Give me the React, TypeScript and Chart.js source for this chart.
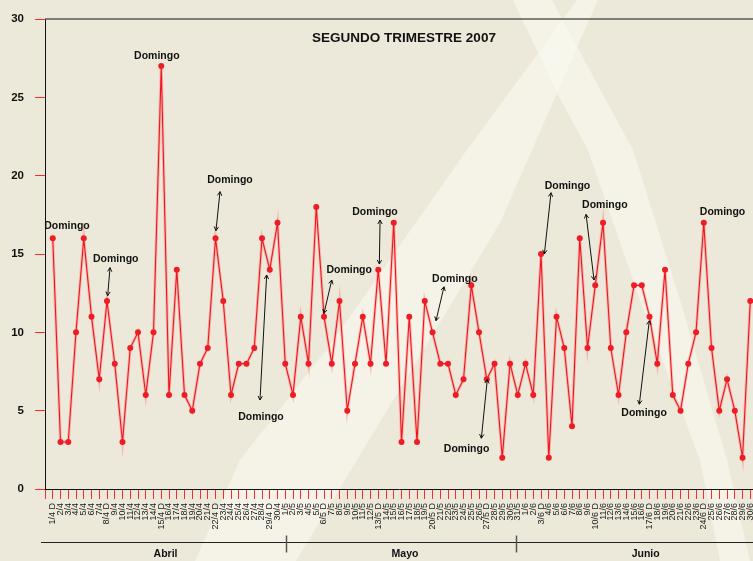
import React, { useEffect, useRef } from "react";
import { Chart, registerables } from "chart.js";

Chart.register(...registerables);

const W = 753;
const H = 561;
const FONT = "'Liberation Sans', Arial, Helvetica, sans-serif";

// ---- data ----
const aprilLabels = ["1/4 D","2/4","3/4","4/4","5/4","6/4","7/4","8/4 D","9/4","10/4","11/4","12/4","13/4","14/4","15/4 D","16/4","17/4","18/4","19/4","20/4","21/4","22/4 D","23/4","24/4","25/4","26/4","27/4","28/4","29/4 D","30/4"];
const mayLabels = ["1/5","2/5","3/5","4/5","5/5","6/5 D","7/5","8/5","9/5","10/5","11/5","12/5","13/5 D","14/5","15/5","16/5","17/5","18/5","19/5","20/5 D","21/5","22/5","23/5","24/5","25/5","26/5","27/5 D","28/5","29/5","30/5","31/5"];
const juneLabels = ["1/6","2/6","3/6 D","4/6","5/6","6/6","7/6","8/6","9/6","10/6 D","11/6","12/6","13/6","14/6","15/6","16/6","17/6 D","18/6","19/6","20/6","21/6","22/6","23/6","24/6 D","25/6","26/6","27/6","28/6","29/6","30/6"];

const aprilValues = [16,3,3,10,16,11,7,12,8,3,9,10,6,10,27,6,14,6,5,8,9,16,12,6,8,8,9,16,14,17];
const mayValues = [8,6,11,8,18,11,8,12,5,8,11,8,14,8,17,3,11,3,12,10,8,8,6,7,13,10,7,8,2,8,6];
const juneValues = [8,6,15,2,11,9,4,16,9,13,17,9,6,10,13,13,11,8,14,6,5,8,10,17,9,5,7,5,2,12];

const months = ["Abril", "Mayo", "Junio"];
const title = "SEGUNDO TRIMESTRE 2007";
const noteText = "Domingo";

// annotation placement (data units: x = day number, y = value)
const notes = [
  { x: 2.84, y: 16.79 },
  { x: 9.13, y: 14.68, from: [8.39, 14.13], to: [8.09, 12.34] },
  { x: 14.43, y: 27.66 },
  { x: 23.87, y: 19.72, from: [22.58, 18.98], to: [22.06, 16.49] },
  { x: 27.87, y: 4.62, from: [27.74, 5.68], to: [28.6, 13.66] },
  { x: 39.25, y: 13.98, from: [37.0, 13.34], to: [36.0, 11.21] },
  { x: 42.58, y: 17.7, from: [43.23, 17.17], to: [43.14, 14.36] },
  { x: 52.88, y: 13.4, from: [51.48, 12.91], to: [50.45, 10.74] },
  { x: 54.39, y: 2.53, from: [56.3, 3.24], to: [57.07, 7.0] },
  { x: 67.42, y: 19.36, from: [65.29, 18.91], to: [64.43, 15.0] },
  { x: 72.23, y: 18.13, from: [69.81, 17.53], to: [70.84, 13.34] },
  { x: 77.3, y: 4.83, from: [76.68, 5.41], to: [77.97, 10.74] },
  { x: 87.42, y: 17.66 },
];

const monthCenters = [15.55, 46.45, 77.5];
const monthDividers = [31.1, 60.8];

function arrowHead(ctx: CanvasRenderingContext2D, x1: number, y1: number, x2: number, y2: number) {
  const a = Math.atan2(y2 - y1, x2 - x1);
  const len = 4.5;
  const spread = 0.5;
  ctx.beginPath();
  ctx.moveTo(x2 - len * Math.cos(a - spread), y2 - len * Math.sin(a - spread));
  ctx.lineTo(x2, y2);
  ctx.lineTo(x2 - len * Math.cos(a + spread), y2 - len * Math.sin(a + spread));
  ctx.stroke();
}

export default function App() {
  const ref = useRef<HTMLCanvasElement>(null);

  useEffect(() => {
    const canvas = ref.current!;
    const labels = [...aprilLabels, ...mayLabels, ...juneLabels];
    const values = [...aprilValues, ...mayValues, ...juneValues];
    const points = values.map((v, i) => ({ x: i + 1, y: v }));

    const bgPlugin = {
      id: "bg",
      beforeDraw(chart: any) {
        const ctx = chart.ctx as CanvasRenderingContext2D;
        ctx.save();
        ctx.fillStyle = "#ECE9DB";
        ctx.fillRect(0, 0, W, H);
        ctx.fillStyle = "rgba(250,249,241,0.62)";
        const bandA = [
          [577, 0], [467, 150], [330, 345], [240, 460], [195, 561],
          [296, 561], [357, 460], [500, 223], [557, 93], [598, 0],
        ];
        const bandB = [
          [513, 0], [557, 93], [588, 150], [640, 300], [700, 460], [720, 561],
          [750, 561], [727, 460], [680, 300], [633, 150], [563, 21], [552, 0],
        ];
        for (const band of [bandA, bandB]) {
          ctx.beginPath();
          band.forEach(([x, y], i) => (i ? ctx.lineTo(x, y) : ctx.moveTo(x, y)));
          ctx.closePath();
          ctx.fill();
        }
        ctx.restore();
      },
      beforeDatasetsDraw(chart: any) {
        const ctx = chart.ctx as CanvasRenderingContext2D;
        const meta = chart.getDatasetMeta(0);
        ctx.save();
        ctx.strokeStyle = "rgba(255,70,70,0.28)";
        ctx.lineWidth = 3;
        ctx.lineJoin = "miter";
        ctx.miterLimit = 12;
        ctx.beginPath();
        meta.data.forEach((p: any, i: number) => (i ? ctx.lineTo(p.x, p.y) : ctx.moveTo(p.x, p.y)));
        ctx.stroke();
        ctx.restore();
      },
    };

    const overlay = {
      id: "overlay",
      afterDraw(chart: any) {
        const ctx = chart.ctx as CanvasRenderingContext2D;
        const xs = chart.scales.x;
        const ys = chart.scales.y;
        const area = chart.chartArea;
        ctx.save();
        // top frame line
        ctx.strokeStyle = "#5a5a55";
        ctx.lineWidth = 1.5;
        ctx.beginPath();
        ctx.moveTo(area.left, area.top);
        ctx.lineTo(W, area.top);
        ctx.stroke();

        // title
        ctx.fillStyle = "#111";
        ctx.font = `bold 13.5px ${FONT}`;
        ctx.textAlign = "center";
        ctx.textBaseline = "middle";
        ctx.fillText(title, 404, 38);

        // annotations
        ctx.font = `bold 10.5px ${FONT}`;
        ctx.strokeStyle = "#111";
        ctx.lineWidth = 1;
        for (const n of notes) {
          ctx.fillText(noteText, xs.getPixelForValue(n.x), ys.getPixelForValue(n.y));
          if (n.from && n.to) {
            const x1 = xs.getPixelForValue(n.from[0]);
            const y1 = ys.getPixelForValue(n.from[1]);
            const x2 = xs.getPixelForValue(n.to[0]);
            const y2 = ys.getPixelForValue(n.to[1]);
            ctx.beginPath();
            ctx.moveTo(x1, y1);
            ctx.lineTo(x2, y2);
            ctx.stroke();
            arrowHead(ctx, x1, y1, x2, y2);
            arrowHead(ctx, x2, y2, x1, y1);
          }
        }

        // month axis
        const my = 542.5;
        ctx.strokeStyle = "#222";
        ctx.lineWidth = 1;
        ctx.beginPath();
        ctx.moveTo(41, my);
        ctx.lineTo(W, my);
        ctx.stroke();
        ctx.strokeStyle = "#555";
        ctx.lineWidth = 1.5;
        for (const d of monthDividers) {
          const x = Math.round(xs.getPixelForValue(d)) + 0.5;
          ctx.beginPath();
          ctx.moveTo(x, my - 7);
          ctx.lineTo(x, my + 10);
          ctx.stroke();
        }
        ctx.fillStyle = "#111";
        ctx.font = `bold 10.5px ${FONT}`;
        months.forEach((m, i) => {
          ctx.fillText(m, xs.getPixelForValue(monthCenters[i]), 554);
        });
        ctx.restore();
      },
    };

    const chart = new Chart(canvas, {
      type: "line",
      data: {
        datasets: [
          {
            data: points,
            borderColor: "#f0141e",
            borderWidth: 1.1,
            pointRadius: 3,
            pointBackgroundColor: "#ee1c25",
            pointBorderWidth: 0,
            tension: 0,
            clip: false,
          },
        ],
      },
      options: {
        animation: false,
        responsive: false,
        plugins: { legend: { display: false }, tooltip: { enabled: false }, title: { display: false } },
        layout: { autoPadding: false, padding: { top: 19, left: 0, right: 0, bottom: 0 } },
        scales: {
          x: {
            type: "linear",
            min: 0,
            max: 91.35,
            afterBuildTicks(s: any) {
              s.ticks = [{ value: 0 }, ...labels.map((_, i) => ({ value: i + 1 }))];
            },
            afterFit(s: any) {
              s.height = 72;
              s.paddingLeft = 0;
              s.paddingRight = 0;
            },
            ticks: {
              autoSkip: false,
              minRotation: 90,
              maxRotation: 90,
              padding: 4,
              color: "#1a1a1a",
              font: { family: FONT, size: 9 },
              callback: (v: any) => (v >= 1 ? labels[v - 1] ?? "" : ""),
            },
            grid: { drawOnChartArea: false, tickLength: 10, color: "#ff2a2a", lineWidth: 1 },
            border: { color: "#111", width: 1 },
          },
          y: {
            min: 0,
            max: 30,
            afterFit(s: any) {
              s.width = 45;
              s.paddingTop = 0;
              s.paddingBottom = 0;
            },
            ticks: {
              stepSize: 5,
              padding: 11,
              color: "#111",
              font: { family: FONT, size: 11.5, weight: "bold" },
            },
            grid: { drawOnChartArea: false, tickLength: 10, color: "#ff2a2a", lineWidth: 1 },
            border: { color: "#111", width: 1 },
          },
        },
      },
      plugins: [bgPlugin, overlay],
    } as any);

    return () => chart.destroy();
  }, []);

  return (
    <div style={{ position: "absolute", left: 0, top: 0, width: W, height: H, overflow: "hidden" }}>
      <canvas ref={ref} width={W} height={H} style={{ display: "block", width: W, height: H }} />
    </div>
  );
}
